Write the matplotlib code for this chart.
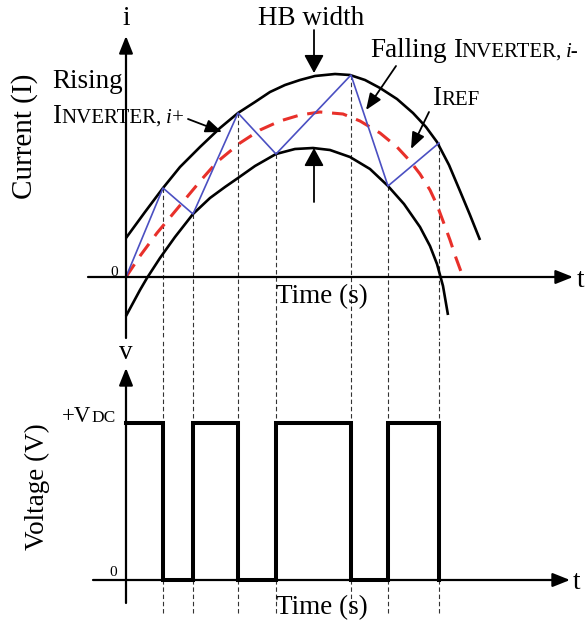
import matplotlib
matplotlib.use('Agg')
import matplotlib.pyplot as plt

plt.rcParams['font.family'] = ['Liberation Serif', 'DejaVu Serif']

W, H = 585, 622

# switching instants of the inverter (same time units as the curves)
t_switch = [37, 67, 112, 150, 225, 262, 313]

# hysteresis band around the reference current
upper_t = [0, 19, 37, 54, 74, 94, 112, 129, 144, 159, 174, 189, 209, 224,
           239, 254, 271, 287, 300, 311, 323, 334, 344, 354]
upper_i = [39, 65, 89, 110, 130, 149, 164, 175, 185, 192, 197, 201, 203, 202,
           197, 189, 178, 164, 150, 135, 112, 86, 62, 37]

lower_t = [0, 7, 14, 21, 34, 49, 67, 84, 99, 112, 129, 150, 169, 187,
           204, 224, 244, 262, 278, 294, 304, 311, 317, 322]
lower_i = [-39, -26, -13, -1, 19, 40, 63, 79, 90, 99, 111, 123, 128, 129,
           127, 120, 108, 91, 73, 50, 31, 13, -9, -38]

# reference current I_REF
ref_t = [0, 14, 31, 46, 61, 76, 91, 114, 134, 154, 174, 194, 217, 234,
         254, 271, 284, 294, 304, 311, 317, 324, 330, 337]
ref_i = [0, 21, 44, 62, 80, 98, 115, 134, 147, 156, 162, 165, 163, 156,
         144, 130, 116, 103, 87, 72, 56, 37, 19, 0]

# inverter current bouncing between the band limits
inv_t = [0] + t_switch
inv_i = [0, 89, 63, 164, 123, 202, 91, 134]

# inverter output voltage after each switching instant (1 = +Vdc)
volt_t = [0] + t_switch
volt_v = [1, 0, 1, 0, 1, 0, 1, 0]

BLUE = '#4b50c2'
RED = '#e8302a'

fig = plt.figure(figsize=(W / 100, H / 100), dpi=100)

# current panel, 1 unit = 1 px
ax_i = fig.add_axes([0, 1 - 340 / H, 1, 340 / H])
ax_i.set_xlim(-126, W - 126)
ax_i.set_ylim(-63, 277)
ax_i.axis('off')

# voltage panel, +Vdc sits 157 px above zero
VS = 157.0
ax_v = fig.add_axes([0, 0, 1, 282 / H])
ax_v.set_xlim(-126, W - 126)
ax_v.set_ylim(-42 / VS, 240 / VS)
ax_v.axis('off')

# overlay in pixel units for labels and pointer arrows
ax_px = fig.add_axes([0, 0, 1, 1])
ax_px.set_xlim(0, W)
ax_px.set_ylim(H, 0)
ax_px.axis('off')
ax_px.patch.set_alpha(0)


def axis_arrow(ax, tail, tip):
    ax.annotate('', xy=tip, xytext=tail,
                arrowprops=dict(arrowstyle='-|>,head_length=1.05,head_width=0.42',
                                mutation_scale=10, lw=1.6, color='k',
                                shrinkA=0, shrinkB=0))


# axes of the current plot
axis_arrow(ax_i, (0, -61), (0, 241))
axis_arrow(ax_i, (-38, 0), (447, 0))

# switching instants, dashed down through both panels
ax_i.vlines(t_switch, inv_i[1:], -63, colors='#333333', lw=0.8,
            linestyles=(0, (4, 2.5)))
ax_v.vlines(t_switch, -33 / VS, 240 / VS, colors='#333333', lw=0.8,
            linestyles=(0, (4, 2.5)))

ax_i.plot(upper_t, upper_i, color='k', lw=1.9, solid_capstyle='butt')
ax_i.plot(lower_t, lower_i, color='k', lw=1.9, solid_capstyle='butt')
ax_i.plot(ref_t, ref_i, color=RED, lw=2.2, dashes=(5, 3.2))
ax_i.plot(inv_t, inv_i, color=BLUE, lw=1.2)

# axes of the voltage plot
axis_arrow(ax_v, (0, -23 / VS), (0, 212 / VS))
axis_arrow(ax_v, (-33, 0), (444, 0))
ax_v.step(volt_t, volt_v, where='post', color='k', lw=2.9,
          solid_joinstyle='miter')

# labels
TXT = 19.5
SC = 15


def pointer(tail, tip, hw=0.4, hl=1.0):
    ax_px.annotate('', xy=tip, xytext=tail,
                   arrowprops=dict(arrowstyle='-|>,head_length=%g,head_width=%g' % (hl, hw),
                                   mutation_scale=10, lw=1.3, color='k',
                                   shrinkA=0, shrinkB=0))


renderer = fig.canvas.get_renderer()


def run_text(x, y, parts):
    # pieces of text set side by side on one baseline (small caps etc.)
    for s, size, style, gap in parts:
        x += gap
        t = ax_px.text(x, y, s, fontsize=size, style=style,
                       ha='left', va='baseline')
        x = t.get_window_extent(renderer).x1


ax_px.text(126, 25, 'i', fontsize=TXT, ha='center', va='baseline')
ax_px.text(258, 25, 'HB width', fontsize=TXT, ha='left', va='baseline')
pointer((314, 30), (314, 73), hw=0.6, hl=1.1)
pointer((314, 202), (314, 148), hw=0.6, hl=1.1)

ax_px.text(52, 88, 'Rising', fontsize=TXT, ha='left', va='baseline')
run_text(52, 123, [('I', TXT, 'normal', 0), ('NVERTER,', SC, 'normal', 0),
                   ('i+', SC, 'italic', 4)])
pointer((188, 119), (222, 132))

run_text(370, 57, [('Falling', TXT, 'normal', 0), ('I', TXT, 'normal', 6),
                   ('NVERTER,', SC, 'normal', 0), ('i-', SC, 'italic', 4)])
pointer((396, 66), (366, 110))

run_text(432, 105, [('I', TXT, 'normal', 0), ('REF', SC, 'normal', 0)])
pointer((429, 112), (411, 149))

ax_px.text(118, 276, '0', fontsize=11, ha='right', va='baseline')
ax_px.text(577, 287, 't', fontsize=TXT, ha='left', va='baseline')
ax_px.text(276, 303, 'Time (s)', fontsize=TXT, ha='left', va='baseline')
ax_px.text(25, 136, 'Current (I)', fontsize=21, rotation=90,
           ha='center', va='center')

ax_px.text(126, 359, 'v', fontsize=TXT, ha='center', va='baseline')
run_text(62, 422, [('+V', 16.5, 'normal', 0), ('DC', 12.5, 'normal', 0)])
ax_px.text(117, 576, '0', fontsize=11, ha='right', va='baseline')
ax_px.text(573, 589, 't', fontsize=TXT, ha='left', va='baseline')
ax_px.text(276, 614, 'Time (s)', fontsize=TXT, ha='left', va='baseline')
ax_px.text(37, 487, 'Voltage (V)', fontsize=TXT, rotation=90,
           ha='center', va='center')

fig.savefig('out.png', dpi=100)
